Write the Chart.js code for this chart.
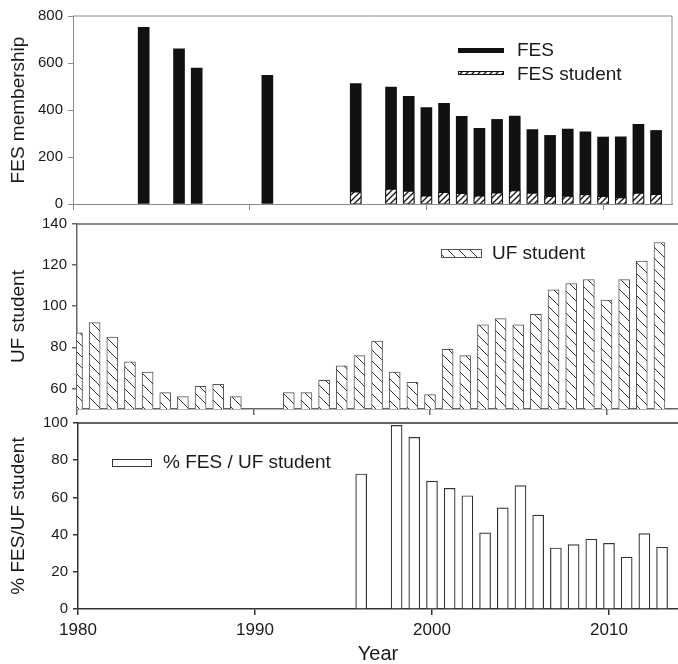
<!DOCTYPE html>
<html>
<head>
<meta charset="utf-8">
<script src="https://cdn.jsdelivr.net/npm/chart.js@4.4.1/dist/chart.umd.min.js"></script>
<style>
  html, body { margin: 0; padding: 0; background: #fff; overflow: hidden; }
  #wrap { position: relative; width: 678px; height: 664px; }
  #wrap canvas { position: absolute; left: 0; top: 0; }
</style>
</head>
<body>
<div id="wrap">
  <canvas id="fes" width="678" height="664"></canvas>
  <canvas id="uf" width="678" height="664"></canvas>
  <canvas id="pct" width="678" height="664"></canvas>
</div>
<script>
// FES total membership
const fesYears = [1984, 1986, 1987, 1991, 1996, 1998, 1999, 2000, 2001, 2002, 2003,
  2004, 2005, 2006, 2007, 2008, 2009, 2010, 2011, 2012, 2013];
const fesMembers = [752, 660, 578, 548, 512, 498, 458, 410, 428, 373, 322,
  360, 374, 317, 292, 319, 307, 285, 286, 339, 313];

// FES student members (also the years of the % panel)
const studentYears = [1996, 1998, 1999, 2000, 2001, 2002, 2003, 2004, 2005,
  2006, 2007, 2008, 2009, 2010, 2011, 2012, 2013];
const fesStudents = [52, 64, 55, 35, 50, 45, 35, 48, 57, 46, 33, 34, 40, 33, 27, 47, 41];
const pctFesUf = [72.6, 98.7, 92.3, 68.8, 64.9, 60.9, 40.9, 54.4, 66.3, 50.5,
  32.8, 34.6, 37.5, 35.3, 27.9, 40.5, 33.2];

// UF students
const ufYears = [1980, 1981, 1982, 1983, 1984, 1985, 1986, 1987, 1988, 1989,
  1992, 1993, 1994, 1995, 1996, 1997, 1998, 1999, 2000, 2001, 2002, 2003,
  2004, 2005, 2006, 2007, 2008, 2009, 2010, 2011, 2012, 2013];
const ufStudents = [87, 92, 85, 73, 68, 58, 56, 61, 62, 56,
  58, 58, 64, 71, 76, 83, 68, 63, 57, 79, 76, 91,
  94, 91, 96, 108, 111, 113, 103, 113, 122, 131];

// tick labels
const xTicks = [1980, 1990, 2000, 2010];
const fesTicks = [0, 200, 400, 600, 800];
const ufTicks = [60, 80, 100, 120, 140];
const pctTicks = [0, 20, 40, 60, 80, 100];

const FONT = '"Liberation Sans", Arial, sans-serif';
const W = 678, H = 664;

function hatch(color, size, lw, back) {
  const c = document.createElement("canvas");
  c.width = c.height = size;
  const g = c.getContext("2d");
  g.fillStyle = "#fff";
  g.fillRect(0, 0, size, size);
  g.strokeStyle = color;
  g.lineWidth = lw;
  g.beginPath();
  if (back) {
    g.moveTo(0, 0); g.lineTo(size, size);
    g.moveTo(-2, size - 2); g.lineTo(2, size + 2);
    g.moveTo(size - 2, -2); g.lineTo(size + 2, 2);
  } else {
    g.moveTo(0, size); g.lineTo(size, 0);
    g.moveTo(-2, 2); g.lineTo(2, -2);
    g.moveTo(size - 2, size + 2); g.lineTo(size + 2, size - 2);
  }
  g.stroke();
  return g.createPattern(c, "repeat");
}

const fesHatch = hatch("#111", 6, 1.3, false);
const ufHatch = hatch("#333", 11, 1, true);

const points = (xs, ys) => xs.map((x, i) => ({ x, y: ys[i] }));

function framePlugin(color, width, right) {
  return {
    id: "frame",
    afterDraw(chart) {
      const { ctx, chartArea: a } = chart;
      ctx.save();
      ctx.strokeStyle = color;
      ctx.lineWidth = width;
      ctx.beginPath();
      ctx.moveTo(a.left, a.top);
      ctx.lineTo(a.right, a.top);
      if (right) ctx.lineTo(a.right, a.bottom);
      ctx.stroke();
      ctx.restore();
    }
  };
}

function legendPlugin(items) {
  return {
    id: "boxLegend",
    afterDraw(chart) {
      const ctx = chart.ctx;
      ctx.save();
      items.forEach(it => {
        ctx.fillStyle = it.fill;
        ctx.fillRect(it.x, it.y, it.w, it.h);
        if (it.stroke) {
          ctx.strokeStyle = it.stroke;
          ctx.lineWidth = 1;
          ctx.strokeRect(it.x + 0.5, it.y + 0.5, it.w - 1, it.h - 1);
        }
        ctx.fillStyle = "#1a1a1a";
        ctx.font = "19px " + FONT;
        ctx.textBaseline = "middle";
        ctx.fillText(it.text, it.tx, it.ty);
      });
      ctx.restore();
    }
  };
}

function makePanel(id, p) {
  return new Chart(document.getElementById(id), {
    type: "bar",
    data: { datasets: p.datasets },
    options: {
      responsive: false,
      animation: false,
      events: [],
      layout: {
        padding: {
          left: 0,
          top: p.area.top,
          right: W - p.area.right,
          bottom: H - p.area.bottom - p.xHeight
        }
      },
      plugins: { legend: { display: false }, tooltip: { enabled: false } },
      scales: {
        x: {
          type: "linear",
          min: 1980,
          max: p.xMax,
          offset: false,
          afterBuildTicks: s => { s.ticks = xTicks.map(v => ({ value: v })); },
          afterFit: s => { s.height = p.xHeight; },
          grid: { offset: false, drawOnChartArea: false, tickLength: 6, color: p.line, lineWidth: p.lineWidth },
          border: { color: p.line, width: p.lineWidth },
          ticks: {
            font: { family: FONT, size: 17 },
            color: "#1a1a1a",
            padding: 5,
            maxRotation: 0,
            callback: v => (p.xLabels ? String(v) : "")
          },
          title: {
            display: !!p.xTitle,
            text: p.xTitle,
            font: { family: FONT, size: 20, lineHeight: 1 },
            color: "#1a1a1a",
            padding: { top: 0, bottom: 0 }
          }
        },
        y: {
          min: p.yMin,
          max: p.yMax,
          afterBuildTicks: s => { s.ticks = p.yTicks.map(v => ({ value: v })); },
          afterFit: s => { s.width = p.area.left; },
          grid: { drawOnChartArea: false, tickLength: 5, color: p.line, lineWidth: p.lineWidth },
          border: { color: p.line, width: p.lineWidth },
          ticks: {
            font: { family: FONT, size: 15 },
            color: "#1a1a1a",
            padding: 5,
            callback: v => String(v)
          },
          title: {
            display: true,
            text: p.yTitle,
            font: { family: FONT, size: 19 },
            color: "#1a1a1a",
            padding: { top: 7, bottom: 0 }
          }
        }
      }
    },
    plugins: [framePlugin(p.line, p.lineWidth, p.frameRight), legendPlugin(p.legend)]
  });
}

makePanel("fes", {
  area: { left: 73, top: 16, right: 672, bottom: 204 },
  xHeight: 10,
  xMax: 2013.9,
  yMin: 0, yMax: 800, yTicks: fesTicks,
  yTitle: "FES membership",
  line: "#8a8a8a", lineWidth: 1, frameRight: true,
  datasets: [
    {
      label: "FES student",
      data: points(studentYears, fesStudents),
      backgroundColor: fesHatch,
      borderColor: "#111",
      borderWidth: 1,
      barThickness: 11,
      grouped: false,
      order: 1
    },
    {
      label: "FES",
      data: points(fesYears, fesMembers),
      backgroundColor: "#111",
      borderWidth: 0,
      barThickness: 11,
      grouped: false,
      order: 2
    }
  ],
  legend: [
    { text: "FES", fill: "#111", x: 458, y: 48, w: 46, h: 5, tx: 517, ty: 51 },
    { text: "FES student", fill: fesHatch, stroke: "#111", x: 458, y: 71, w: 46, h: 4, tx: 517, ty: 75 }
  ]
});

makePanel("uf", {
  area: { left: 77, top: 224, right: 678, bottom: 409 },
  xHeight: 10,
  xMax: 2014.05,
  yMin: 50, yMax: 140, yTicks: ufTicks,
  yTitle: "UF student",
  line: "#666", lineWidth: 1.5, frameRight: false,
  datasets: [
    {
      label: "UF student",
      data: points(ufYears, ufStudents),
      backgroundColor: ufHatch,
      borderColor: "#555",
      borderWidth: 1,
      barThickness: 11
    }
  ],
  legend: [
    { text: "UF student", fill: ufHatch, stroke: "#555", x: 441, y: 249, w: 41, h: 9, tx: 492, ty: 254 }
  ]
});

makePanel("pct", {
  area: { left: 78, top: 423, right: 678, bottom: 609 },
  xHeight: 55,
  xMax: 2013.9,
  xLabels: true,
  xTitle: "Year",
  yMin: 0, yMax: 100, yTicks: pctTicks,
  yTitle: "% FES/UF student",
  line: "#333", lineWidth: 1.5, frameRight: false,
  datasets: [
    {
      label: "% FES / UF student",
      data: points(studentYears, pctFesUf),
      backgroundColor: "#fff",
      borderColor: "#333",
      borderWidth: 1.2,
      barThickness: 11
    }
  ],
  legend: [
    { text: "% FES / UF student", fill: "#fff", stroke: "#333", x: 112, y: 459, w: 40, h: 8, tx: 163, ty: 463 }
  ]
});
</script>
</body>
</html>
